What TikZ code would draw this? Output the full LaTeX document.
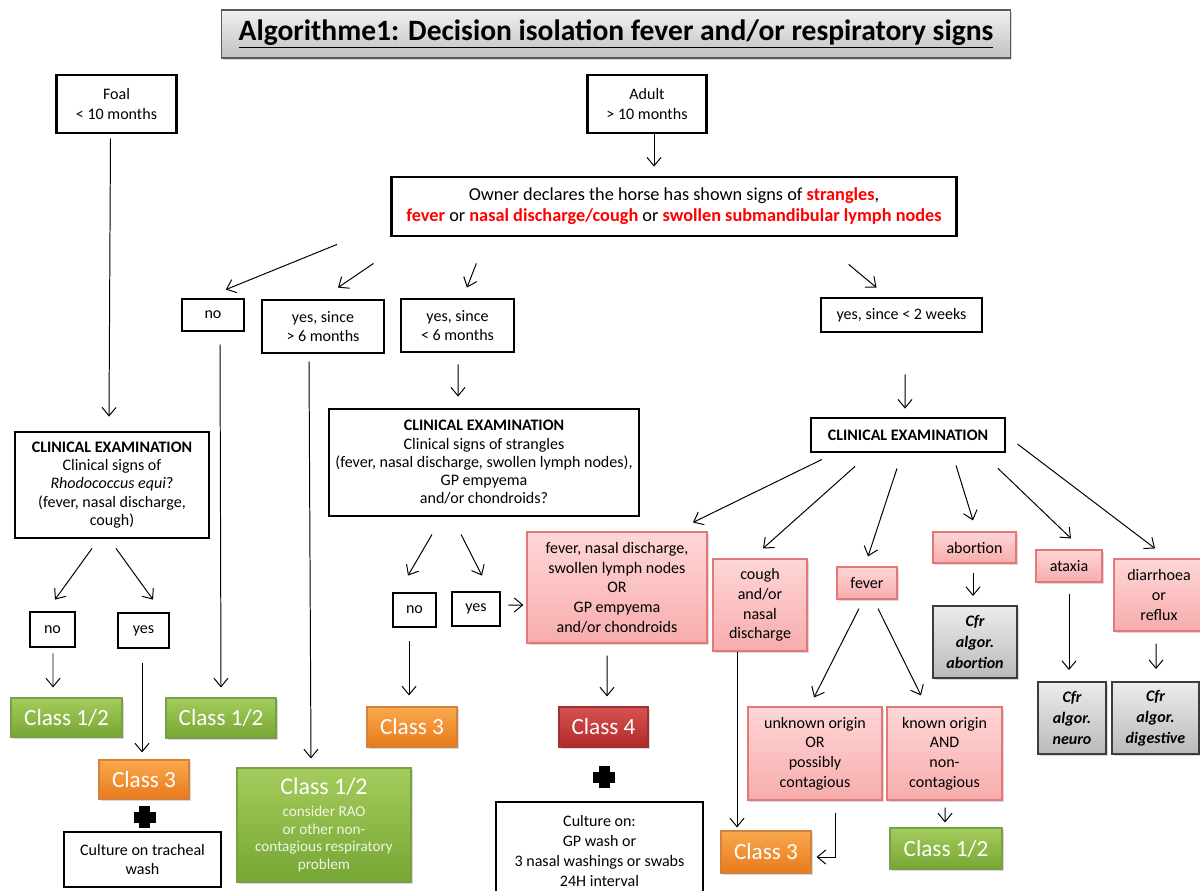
\documentclass[tikz,border=0pt]{standalone}
\usepackage{fontspec}
\setmainfont{Carlito}
\usetikzlibrary{arrows.meta,shadows}

\definecolor{pinktop}{RGB}{255,214,214}
\definecolor{pinkbot}{RGB}{247,172,172}
\definecolor{pinkline}{RGB}{228,120,120}
\definecolor{cfrtop}{RGB}{236,236,236}
\definecolor{cfrbot}{RGB}{186,186,186}
\definecolor{cfrline}{RGB}{60,60,60}
\definecolor{greentop}{RGB}{164,204,92}
\definecolor{greenbot}{RGB}{118,166,52}
\definecolor{greenline}{RGB}{120,160,70}
\definecolor{orangetop}{RGB}{250,168,78}
\definecolor{orangebot}{RGB}{232,122,28}
\definecolor{orangeline}{RGB}{210,130,60}
\definecolor{redtop}{RGB}{214,82,80}
\definecolor{redbot}{RGB}{176,42,40}
\definecolor{redline}{RGB}{160,50,50}
\definecolor{paletext}{RGB}{238,246,226}
\newcommand\redbold[1]{\textcolor{red}{\textbf{#1}}}

\begin{document}
\begin{tikzpicture}[x=0.025cm, y=-0.025cm,
txt/.style={align=center, inner sep=1pt, font=\fontsize{11.4}{14}\selectfont},
sz/.style 2 args={minimum width=#1cm, minimum height=#2cm},
softshadow/.style={drop shadow={shadow xshift=1.2pt, shadow yshift=-1.5pt, opacity=0.3}},
plainbox/.style={txt, draw, line width=2pt, fill=white},
clinbox/.style={plainbox, font=\fontsize{11.4}{13}\selectfont},
titlebox/.style={draw=black!65, line width=0.8pt, top color=black!6, bottom color=black!24, softshadow,
  font=\fontsize{21}{23}\selectfont\bfseries},
pinkbox/.style={txt, draw=pinkline, line width=0.8pt, top color=pinktop, bottom color=pinkbot, softshadow},
cfrbox/.style={txt, draw=cfrline, line width=1.4pt, top color=cfrtop, bottom color=cfrbot, softshadow,
  font=\fontsize{11.4}{15}\selectfont\bfseries\itshape},
classbox/.style={txt, text=white, line width=0.8pt, softshadow, font=\fontsize{16.5}{19}\selectfont},
class12/.style={classbox, draw=greenline, top color=greentop, bottom color=greenbot},
class3/.style={classbox, draw=orangeline, top color=orangetop, bottom color=orangebot},
class4/.style={classbox, draw=redline, top color=redtop, bottom color=redbot},
arr/.style={-{Straight Barb[length=6pt,width=10pt]}, line width=0.7pt}]
\useasboundingbox (0,0) rectangle (1200,890);

% title
\node[titlebox, sz={19.7}{1.2}] (title) at (616,34)
  {\underline{Algorithme1: Decision isolation fever and/or respiratory signs}};

% age groups
\node[plainbox, sz={3.0}{1.45}] (foal) at (116.5,104) {Foal\\< 10 months};
\node[plainbox, sz={2.975}{1.45}] (adult) at (647,104) {Adult\\> 10 months};
\node[plainbox, sz={14.125}{1.475}, font=\fontsize{13}{15}\selectfont] (owner) at (674,206.5)
  {Owner declares the horse has shown signs of \redbold{strangles},\\
   \redbold{fever} or \redbold{nasal discharge/cough} or \redbold{swollen submandibular lymph nodes}};

% answers of the owner
\node[plainbox, sz={1.55}{0.8}] (noA) at (213,315) {no};
\node[plainbox, sz={3.05}{1.325}] (yesOld) at (323,326.5) {yes, since\\> 6 months};
\node[plainbox, sz={2.825}{1.325}] (yesRecent) at (457.5,325.5) {yes, since\\< 6 months};
\node[plainbox, sz={4.025}{0.85}] (yesWeeks) at (901.5,315) {yes, since < 2 weeks};

% foal branch
\node[clinbox, sz={4.85}{2.65}] (clinFoal) at (112,485)
  {\textbf{CLINICAL EXAMINATION}\\Clinical signs of\\\textit{Rhodococcus equi}?\\(fever, nasal discharge,\\cough)};
\node[plainbox, sz={1.125}{0.875}] (noFoal) at (52.5,629.5) {no};
\node[plainbox, sz={1.275}{0.875}] (yesFoal) at (143.5,630.5) {yes};
\node[class12, sz={2.775}{0.975}] (foalLow) at (66.5,717.5) {Class 1/2};
\node[class3, sz={2.25}{0.975}] (foalThree) at (144,779.5) {Class 3};
\node[plainbox, sz={3.925}{1.375}] (cultFoal) at (142.5,859.5) {Culture on tracheal\\wash};

% no / older signs
\node[class12, sz={2.75}{1.0}] (noLow) at (221,718) {Class 1/2};
\node[class12, sz={4.35}{2.85}, font=\fontsize{10.8}{12.6}\selectfont, text=paletext] (oldLow) at (324,825)
  {{\fontsize{17}{19}\selectfont\color{white}Class 1/2}\\[3pt]consider RAO\\or other non-\\contagious respiratory\\problem};

% recent signs
\node[clinbox, sz={7.75}{2.675}] (clinRecent) at (484,462.5)
  {\textbf{CLINICAL EXAMINATION}\\Clinical signs of strangles\\(fever, nasal discharge, swollen lymph nodes),\\GP empyema\\and/or chondroids?};
\node[plainbox, sz={1.075}{0.85}] (noRecent) at (414.5,610) {no};
\node[plainbox, sz={1.2}{0.85}] (yesRecentB) at (476,609) {yes};
\node[pinkbox, sz={4.5}{2.775}] (strangles) at (617,587.5)
  {fever, nasal discharge,\\swollen lymph nodes\\OR\\GP empyema\\and/or chondroids};
\node[class3, sz={2.25}{1.0}] (recentThree) at (412,727) {Class 3};
\node[class4, sz={2.225}{1.0}] (four) at (603.5,727) {Class 4};
\node[plainbox, sz={5.175}{2.45}] (cultGP) at (599.5,851)
  {Culture on:\\GP wash or\\3 nasal washings or swabs\\24H interval};

% signs since < 2 weeks
\node[plainbox, sz={4.85}{0.85}] (clinWeeks) at (908,435) {\textbf{CLINICAL EXAMINATION}};
\node[pinkbox, sz={2.35}{2.3}] (cough) at (760,605) {cough\\and/or\\nasal\\discharge};
\node[pinkbox, sz={1.5}{0.8}] (fever) at (867,583) {fever};
\node[pinkbox, sz={2.075}{0.775}] (abortion) at (974.5,547.5) {abortion};
\node[pinkbox, sz={1.65}{0.8}] (ataxia) at (1069,566) {ataxia};
\node[pinkbox, sz={2.25}{1.8}] (diarrhoea) at (1159,595) {diarrhoea\\or\\reflux};
\node[cfrbox, sz={2.1}{1.8}] (cfrAbortion) at (975,642) {Cfr\\algor.\\abortion};
\node[cfrbox, sz={1.7}{1.8}] (cfrNeuro) at (1072,718) {Cfr\\algor.\\neuro};
\node[cfrbox, sz={2.175}{1.8}] (cfrDigest) at (1155.5,718) {Cfr\\algor.\\digestive};
\node[pinkbox, sz={3.35}{2.325}] (unknown) at (815,753.5) {unknown origin\\OR\\possibly\\contagious};
\node[pinkbox, sz={2.875}{2.325}] (known) at (944.5,753.5) {known origin\\AND\\non-\\contagious};
\node[class3, sz={2.25}{1.05}] (weeksThree) at (766,852) {Class 3};
\node[class12, sz={2.8}{1.025}] (weeksLow) at (946,848.5) {Class 1/2};

% plus signs
\coordinate (plusA) at (144.5,817);
\coordinate (plusB) at (604,777);
\foreach \p in {plusA,plusB} {
  \fill ([shift={(-11,-5.5)}]\p) rectangle ([shift={(11,5.5)}]\p);
  \fill ([shift={(-5.5,-11)}]\p) rectangle ([shift={(5.5,11)}]\p);
}

% connectors
\draw[arr] ([shift={(-6,4)}]foal.south) -- ([shift={(-3,-14)}]clinFoal.north);
\draw[arr] ([shift={(7,0)}]adult.south) -- ([shift={(-20,-9)}]owner.north);
\draw[arr] ([shift={(-337,7)}]owner.south) -- ([shift={(12.8,-8)}]noA.north);
\draw[arr] ([shift={(-300.5,26)}]owner.south) -- ([shift={(15,-11)}]yesOld.north);
\draw[arr] ([shift={(-197.6,26)}]owner.south) -- ([shift={(9.4,-10)}]yesRecent.north);
\draw[arr] ([shift={(174.7,27)}]owner.south) -- ([shift={(-25,-9)}]yesWeeks.north);

\draw[arr] ([shift={(-20,9)}]clinFoal.south) -- ([shift={(2.5,-11)}]noFoal.north);
\draw[arr] ([shift={(4,9)}]clinFoal.south) -- ([shift={(9.5,-12)}]yesFoal.north);
\draw[arr] ([shift={(0.5,5)}]noFoal.south) -- ([shift={(-13.5,-10)}]foalLow.north);
\draw[arr] ([shift={(-1.5,14)}]yesFoal.south) -- ([shift={(-2,-7)}]foalThree.north);

\draw[arr] ([shift={(7,12)}]noA.south) -- ([shift={(0,-10)}]noLow.north);
\draw[arr] ([shift={(-14,7)}]yesOld.south) -- ([shift={(-13,-9)}]oldLow.north);
\draw[arr] ([shift={(0.5,11)}]yesRecent.south) -- ([shift={(-26,-11)}]clinRecent.north);

\draw[arr] ([shift={(-52,17)}]clinRecent.south) -- ([shift={(-6.5,-16)}]noRecent.north);
\draw[arr] ([shift={(-23,17)}]clinRecent.south) -- ([shift={(6,-15)}]yesRecentB.north);
\draw[arr] ([shift={(7,-4)}]yesRecentB.east) -- ([shift={(-3,17.5)}]strangles.west);
\draw[arr] ([shift={(-5.5,13)}]noRecent.south) -- ([shift={(-3,-11)}]recentThree.north);
\draw[arr] ([shift={(-10,12)}]strangles.south) -- ([shift={(3.5,-10)}]four.north);

\draw[arr] ([shift={(3.5,41)}]yesWeeks.south) -- ([shift={(-3,-8)}]clinWeeks.north);
\draw[arr] ([shift={(-86,6)}]clinWeeks.south) -- ([shift={(76,-9)}]strangles.north);
\draw[arr] ([shift={(-53,13)}]clinWeeks.south) -- ([shift={(3,-10)}]cough.north);
\draw[arr] ([shift={(-11,15)}]clinWeeks.south) -- ([shift={(1,-10)}]fever.north);
\draw[arr] ([shift={(48,12)}]clinWeeks.south) -- ([shift={(-1.5,-11)}]abortion.north);
\draw[arr] ([shift={(90,15)}]clinWeeks.south) -- ([shift={(2,-11)}]ataxia.north);
\draw[arr] ([shift={(11,9)}]clinWeeks.east) -- ([shift={(-4,-10)}]diarrhoea.north);

\draw[arr] ([shift={(-1.5,9)}]abortion.south) -- ([shift={(-2,-9)}]cfrAbortion.north);
\draw[arr] ([shift={(0,11)}]ataxia.south) -- ([shift={(-3,-11)}]cfrNeuro.north);
\draw[arr] ([shift={(-3,12)}]diarrhoea.south) -- ([shift={(0.5,-12)}]cfrDigest.north);
\draw[arr] ([shift={(-8,9)}]fever.south) -- ([shift={(-1,-9)}]unknown.north);
\draw[arr] ([shift={(11,9)}]fever.south) -- ([shift={(-23.5,-11)}]known.north);
\draw[arr] ([shift={(-23,0)}]cough.south) -- ([shift={(-29,-3)}]weeksThree.north);
\draw[arr] ([shift={(20,12)}]unknown.south) |- ([shift={(5,5)}]weeksThree.east);
\draw[arr] ([shift={(0.5,7)}]known.south) -- ([shift={(-1,-5)}]weeksLow.north);
\end{tikzpicture}
\end{document}
